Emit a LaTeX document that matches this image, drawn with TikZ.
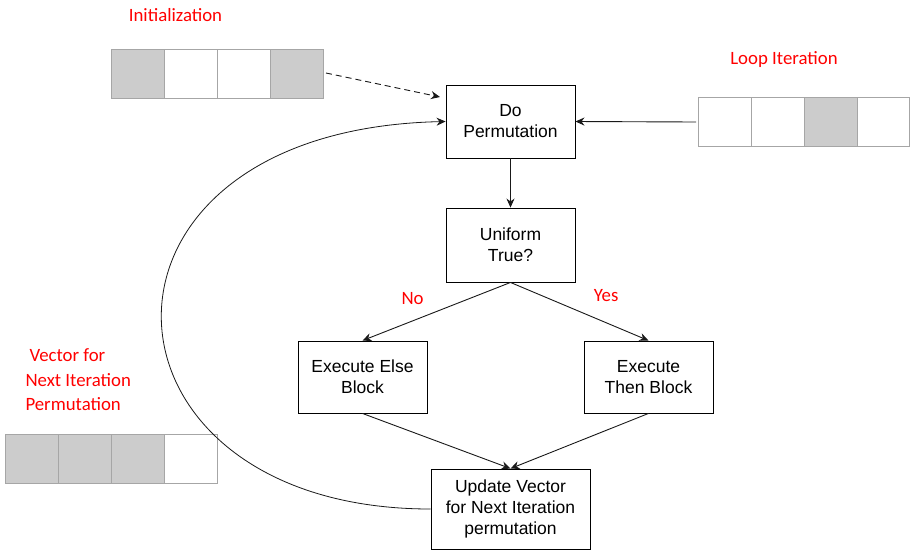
\documentclass[tikz,border=0pt]{standalone}
\usepackage{fontspec}
\setmainfont{Liberation Sans}
\newfontfamily\labfont{Carlito}
\usetikzlibrary{arrows.meta}
\definecolor{cellgray}{HTML}{CCCCCC}
\definecolor{celledge}{HTML}{A6A6A6}
\definecolor{labred}{HTML}{FF0000}
\begin{document}
\begin{tikzpicture}[x=1pt,y=-1pt,
  proc/.style={draw=black,fill=white,line width=0.9pt,align=center,
    font=\fontsize{17.5}{21}\selectfont,inner sep=0pt},
  lab/.style={text=labred,font=\labfont\fontsize{18.8}{24.5}\selectfont},
  gcell/.style={draw=celledge,fill=cellgray,line width=1pt},
  wcell/.style={draw=celledge,fill=white,line width=1pt},
  arr/.style={draw=black!90,line width=0.9pt,-{Stealth[length=9pt,width=8pt]}}]
\useasboundingbox (0,0) rectangle (924,558);
% vectors
\draw[gcell] (111,49) rectangle (164,98);
\draw[wcell] (164,49) rectangle (217,98);
\draw[wcell] (217,49) rectangle (270,98);
\draw[gcell] (270,49) rectangle (323,98);
\coordinate (initR) at (326,73);
\draw[wcell] (698,97) rectangle (751,146);
\draw[wcell] (751,97) rectangle (804,146);
\draw[gcell] (804,97) rectangle (857,146);
\draw[wcell] (857,97) rectangle (909,146);
\coordinate (loopL) at (696,122);
\draw[gcell] (5,434) rectangle (58,483);
\draw[gcell] (58,434) rectangle (111,483);
\draw[gcell] (111,434) rectangle (164,483);
\draw[wcell] (164,434) rectangle (217,483);
% labels
\node[lab] (linit) at (175.5,15) {Initialization};
\node[lab] (lloop) at (784,60) {Loop Iteration};
\node[lab,align=left,anchor=north west] (lnext) at (22,345.5) {\hspace*{4pt}Vector for\\Next Iteration\\Permutation};
% boxes
\node[proc,minimum width=129pt,minimum height=73pt] (do) at (510.5,121.5) {Do\\Permutation};
\node[proc,minimum width=129pt,minimum height=74pt] (uni) at (510.5,245) {Uniform\\True?};
\node[proc,minimum width=129pt,minimum height=72pt] (else) at (362.5,377) {Execute Else\\Block};
\node[proc,minimum width=129pt,minimum height=72pt] (then) at (648.5,377) {Execute\\Then Block};
\node[proc,minimum width=159pt,minimum height=80pt] (upd) at (510.5,509) {Update Vector\\for Next Iteration\\permutation};
\coordinate (doIn) at (440,97);
% connectors
\draw[arr,dashed,dash pattern=on 6pt off 4pt] (initR) -- (doIn);
\draw[arr] (loopL) -- (do.east);
\draw[arr] (do.south) -- (uni.north);
\draw[arr] (uni.south) -- node[pos=0.55,above left=2pt,lab,inner sep=0pt,xshift=-3pt,yshift=7pt] (lno) {No} (else.north);
\draw[arr] (uni.south) -- node[pos=0.55,above right=2pt,lab,inner sep=0pt,xshift=5pt,yshift=10pt] (lyes) {Yes} (then.north);
\draw[arr] (else.south) -- (upd.north);
\draw[arr] (then.south) -- (upd.north);
\draw[arr,line width=0.8pt] (upd.west) .. controls (80,509) and (60,130) .. (do.west);
\end{tikzpicture}
\end{document}
